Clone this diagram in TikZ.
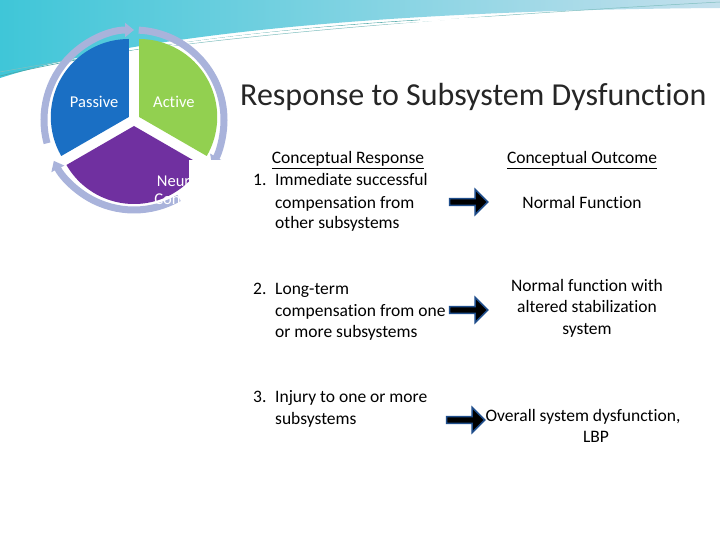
\documentclass[tikz,border=0pt]{standalone}
\usepackage{fontspec}
\setmainfont{Carlito}[Ligatures={NoCommon}]
\usetikzlibrary{shapes.arrows,arrows.meta}
\definecolor{ring}{HTML}{A9B3DB}
\definecolor{pblue}{HTML}{1A6FC4}
\definecolor{pgreen}{HTML}{92D050}
\definecolor{ppurple}{HTML}{7030A0}
\definecolor{arrb}{HTML}{1F4E8C}
\definecolor{topA}{HTML}{3FC6D8}
\definecolor{topB}{HTML}{9CCBE0}
\tikzset{
  body/.style={font=\fontsize{17.5}{20}\selectfont, inner sep=0pt, anchor=base west},
  hdr/.style={font=\fontsize{17.5}{20}\selectfont, inner sep=0pt, anchor=base},
  cbody/.style={font=\fontsize{17.5}{21.6}\selectfont, inner sep=0pt, align=center, anchor=north},
  blk/.style={single arrow, draw=arrb, line width=1.5pt, fill=black, minimum width=25pt, single arrow head extend=2pt, minimum height=38pt, inner sep=0pt},
  lab/.style={font=\fontsize{16.5}{19}\selectfont, text=white, inner sep=0pt},
  ringarc/.style={ring, line width=7pt, -{Triangle[length=9pt,width=14pt]}}
}
\begin{document}
\begin{tikzpicture}[x=1pt,y=-1pt]
\useasboundingbox (0,0) rectangle (720,540);
\fill[white] (0,0) rectangle (720,540);
% top band
\shade[left color=topA, right color=topB!60] (0,0) -- (0,78) .. controls (150,30) and (420,10) .. (720,8) -- (720,0) -- cycle;
\draw[teal!70, line width=0.6pt] (0,76) .. controls (100,52) and (250,30) .. (420,20);
\draw[teal!50, line width=0.5pt] (0,72) .. controls (120,50) and (300,25) .. (720,2);
\draw[white, line width=1.5pt] (0,82) .. controls (150,34) and (420,14) .. (720,12);
% pie
\begin{scope}[shift={(134,120)}, y=1pt]
  \fill[pblue] (150:6) -- ++(90:78) arc[start angle=90, end angle=210, radius=78] -- cycle;
  \fill[pgreen] (30:6) -- ++(-30:78) arc[start angle=-30, end angle=90, radius=78] -- cycle;
  \fill[ppurple] (270:6) -- ++(210:78) arc[start angle=210, end angle=330, radius=78] -- cycle;
  \draw[ringarc] (87:90) arc[start angle=87, end angle=-30, radius=90];
  \draw[ringarc] (-60:90) arc[start angle=-60, end angle=-153, radius=90];
  \draw[ringarc] (-165:90) arc[start angle=-165, end angle=-270, radius=90];
  \node[lab] (pas) at (155:44) {Passive};
  \node[lab] (act) at (25:44) {Active};
  \node[lab, align=center, font=\fontsize{16.5}{18}\selectfont] (neu) at (-57:83) {Neural\\Control};
\end{scope}
\fill[white] (189,160) rectangle (236,232);
% title
\node[font=\fontsize{32}{36}\selectfont, text=black!85, inner sep=0pt, anchor=base west] (title) at (240,106) {Response to Subsystem Dysfunction};
% column 1
\node[hdr] (h1) at (348,164) {\underline{Conceptual Response}};
\node[body] (n1) at (253,186) {1.};
\node[body] (t1) at (275,186) {Immediate successful};
\node[body] (t1b) at (275,208) {compensation from};
\node[body] (t1c) at (275,229) {other subsystems};
\node[body] (n2) at (253,294) {2.};
\node[body] (t2) at (275,294) {Long-term};
\node[body] (t2b) at (275,316) {compensation from one};
\node[body] (t2c) at (275,337) {or more subsystems};
\node[body] (n3) at (253,402) {3.};
\node[body] (t3) at (275,402) {Injury to one or more};
\node[body] (t3b) at (275,424) {subsystems};
% column 2
\node[hdr] (h2) at (582,164) {\underline{Conceptual Outcome}};
\node[hdr] (o1) at (582,208) {Normal Function};
\node[cbody] (o2) at (587,279) {Normal function with\\altered stabilization\\system};
\node[cbody] (o3) at (583,409) {Overall system dysfunction,\\\hspace*{26pt}LBP};
% arrows
\node[blk] (a1) at (467,202) {};
\node[blk] (a2) at (467,310) {};
\node[blk] (a3) at (464,420) {};
\end{tikzpicture}
\end{document}
